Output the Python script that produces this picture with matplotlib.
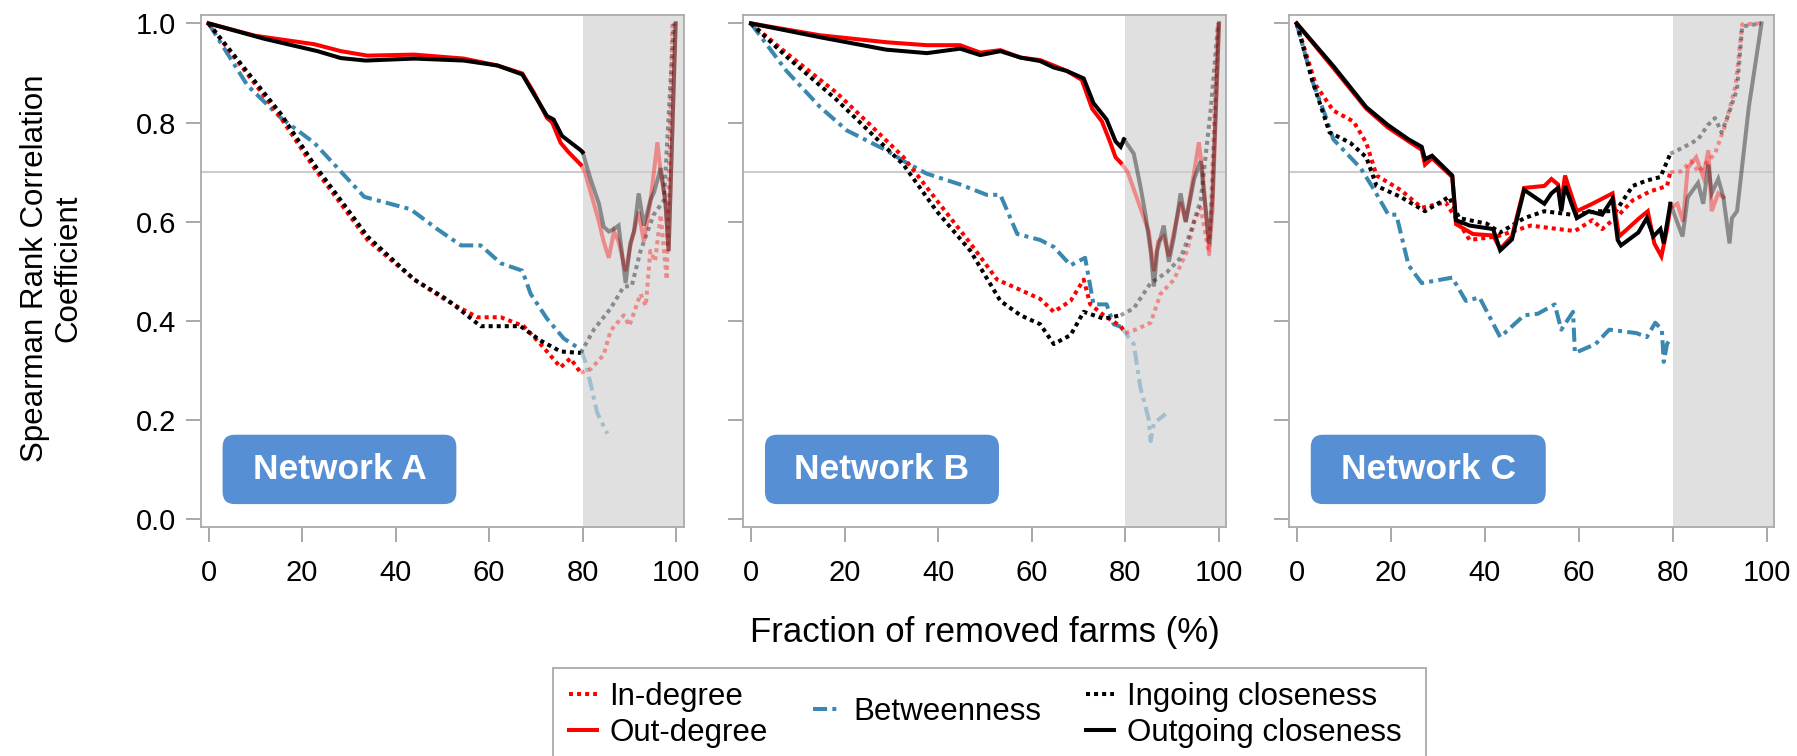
import matplotlib
matplotlib.use('Agg')
import numpy as np
import matplotlib.pyplot as plt
from matplotlib.patches import FancyBboxPatch, Rectangle
from matplotlib.lines import Line2D

# ---- Network A ----
a_out_x = [0, 10, 22.6, 28.3, 34, 44, 54.6, 61.8, 67.1, 69.6, 72.4, 73.5, 75.3, 77, 79.6,
           80.5, 82, 83.5, 84.5, 85.6, 86.7, 87.7, 89.2, 90.2, 92, 93.1, 94.5, 96, 96.7, 97.7, 98.4, 99.9]
a_out_y = [1.0, 0.975, 0.958, 0.944, 0.935, 0.937, 0.929, 0.915, 0.899, 0.86, 0.809, 0.80, 0.759, 0.74, 0.715,
           0.70, 0.65, 0.60, 0.56, 0.527, 0.58, 0.56, 0.50, 0.55, 0.62, 0.56, 0.64, 0.76, 0.70, 0.64, 0.54, 1.0]
a_oc_x = [0, 11.9, 23.3, 28.3, 33.6, 44, 54.6, 61.8, 67.1, 69.6, 72.4, 73.8, 75.6, 79.6,
          80, 81.7, 83.5, 84.5, 85.6, 86.7, 87.7, 89.2, 90.2, 91, 92, 93.1, 94.5, 95.3, 96.7, 97.7, 98.4, 99.9]
a_oc_y = [1.0, 0.969, 0.944, 0.93, 0.925, 0.929, 0.925, 0.915, 0.897, 0.857, 0.813, 0.806, 0.773, 0.744,
          0.74, 0.686, 0.636, 0.59, 0.58, 0.585, 0.592, 0.476, 0.556, 0.58, 0.657, 0.592, 0.643, 0.66, 0.708, 0.643, 0.541, 1.0]
a_in_x = [0, 15.5, 22.6, 28.3, 34, 44, 51, 57.5, 62.5, 67.4, 71, 75.3, 77.4, 79.6,
          81.7, 84.5, 86, 88.8, 90, 92.4, 93.5, 94.5, 95.5, 96.7, 98, 99.2]
a_in_y = [1.0, 0.809, 0.708, 0.636, 0.563, 0.483, 0.44, 0.407, 0.407, 0.389, 0.353, 0.306, 0.324, 0.295,
          0.302, 0.331, 0.38, 0.411, 0.39, 0.454, 0.43, 0.541, 0.52, 0.614, 0.483, 1.0]
a_ic_x = [0, 15.5, 22.6, 28.3, 34, 44, 51, 58.2, 66.7, 71, 75.3, 79.6,
          82.4, 86, 88.8, 90.5, 92.4, 95.2, 97.4, 99.5]
a_ic_y = [1.0, 0.817, 0.715, 0.643, 0.57, 0.483, 0.443, 0.389, 0.389, 0.36, 0.338, 0.335,
          0.382, 0.425, 0.469, 0.47, 0.541, 0.614, 0.643, 1.0]
a_bt_x = [0, 8.3, 15.5, 22.6, 28.3, 33.3, 43.2, 48.9, 54, 58.2, 62.5, 67.1, 68.9, 72.4, 76, 79.6,
          80.6, 81.7, 83.1, 85.3]
a_bt_y = [1.0, 0.875, 0.809, 0.759, 0.701, 0.65, 0.625, 0.585, 0.552, 0.552, 0.516, 0.501, 0.454, 0.404, 0.364, 0.342,
          0.317, 0.273, 0.215, 0.172]

# ---- Network B ----
b_out_x = [0, 14.8, 28.9, 37.6, 44.7, 49, 53.3, 57.6, 61.8, 64.7, 67.5, 70.7, 72.9, 75, 76.8, 77.9, 79,
           80.5, 82, 83.5, 85, 86.1, 87, 88.2, 89.3, 90.4, 91.8, 92.9, 94.7, 95.7, 96.5, 97.9, 98.6, 100]
b_out_y = [1.0, 0.976, 0.962, 0.956, 0.956, 0.941, 0.946, 0.931, 0.926, 0.915, 0.904, 0.886, 0.828, 0.802, 0.759, 0.73, 0.719,
           0.70, 0.66, 0.62, 0.58, 0.50, 0.56, 0.57, 0.53, 0.58, 0.64, 0.60, 0.70, 0.76, 0.70, 0.54, 0.62, 1.0]
b_oc_x = [0, 14.8, 28.9, 37.6, 44.7, 49, 53.3, 57.6, 61.8, 64.7, 67.5, 71.1, 73.2, 76, 77.9, 79, 79.7,
          81.8, 83.2, 84.3, 85.4, 86.1, 86.8, 88.2, 89.3, 90.4, 91.8, 92.9, 94.7, 96.1, 97.9, 98.6, 100]
b_oc_y = [1.0, 0.972, 0.947, 0.94, 0.949, 0.936, 0.944, 0.931, 0.924, 0.911, 0.904, 0.889, 0.839, 0.806, 0.762, 0.751, 0.766,
          0.737, 0.672, 0.614, 0.541, 0.469, 0.541, 0.592, 0.519, 0.57, 0.657, 0.599, 0.686, 0.722, 0.556, 0.65, 1.0]
b_in_x = [0, 7.6, 18.3, 25.5, 32.6, 39.7, 46.9, 52.6, 57.6, 61.8, 64.7, 68.3, 71.1, 72.5, 75.4, 79, 80,
          82.2, 85.4, 87.5, 90.4, 93.2, 94.7, 96.1, 97.9, 99.3, 99.8]
b_in_y = [1.0, 0.94, 0.86, 0.795, 0.73, 0.643, 0.556, 0.483, 0.462, 0.444, 0.418, 0.44, 0.483, 0.433, 0.411, 0.389, 0.375,
          0.382, 0.396, 0.454, 0.483, 0.541, 0.599, 0.628, 0.534, 0.88, 1.0]
b_ic_x = [0, 7.6, 18.3, 25.5, 32.6, 39.7, 46.9, 53.3, 57.6, 61.8, 64.7, 68.3, 71.1, 75.4, 79,
          81.8, 85.4, 88.9, 91.8, 93.9, 96.1, 98.3, 99.8]
b_ic_y = [1.0, 0.933, 0.846, 0.78, 0.715, 0.621, 0.541, 0.44, 0.411, 0.393, 0.353, 0.371, 0.418, 0.404, 0.411,
          0.425, 0.476, 0.498, 0.527, 0.578, 0.643, 0.831, 1.0]
b_bt_x = [0, 7.6, 14.8, 20.5, 28.9, 33.2, 37.5, 44.7, 50.4, 53.3, 56.9, 61.8, 64.7, 68.3, 71.4, 73.2, 76, 77.5, 79,
          81.8, 83.2, 85, 85.4, 86.1, 88.6]
b_bt_y = [1.0, 0.904, 0.831, 0.784, 0.744, 0.719, 0.697, 0.675, 0.654, 0.654, 0.575, 0.563, 0.549, 0.512, 0.527, 0.433, 0.433, 0.393, 0.388,
          0.353, 0.266, 0.201, 0.157, 0.193, 0.212]

# ---- Network C ----
c_out_x = [0, 7.8, 14.8, 19.4, 23.8, 26.6, 27.3, 28.8, 33.1, 33.9, 37.5, 41.8, 43.3, 45.8, 48.4, 52.7, 54.2, 55.6,
           56.3, 57.1, 57.8, 59.6, 62.9, 67.2, 68.6, 72.9, 74.7, 76.1, 77.6, 78.8, 79.5,
           81, 82.2, 83.2, 85, 86.5, 87.6, 88.3, 89.7, 90.8]
c_out_y = [1.0, 0.91, 0.828, 0.79, 0.762, 0.745, 0.715, 0.728, 0.69, 0.595, 0.575, 0.572, 0.545, 0.57, 0.668, 0.672, 0.686, 0.675,
           0.64, 0.693, 0.672, 0.621, 0.636, 0.657, 0.57, 0.607, 0.621, 0.556, 0.53, 0.585, 0.628,
           0.636, 0.60, 0.708, 0.73, 0.69, 0.744, 0.621, 0.657, 0.649]
c_oc_x = [0, 7.8, 14.8, 19.4, 23.8, 26.6, 27.3, 28.8, 33.1, 33.9, 36.8, 41.8, 43.3, 45.8, 48.4, 52.7, 54.2, 55.6, 56.3,
          57.1, 59.6, 62.2, 65, 67.2, 68.3, 69, 72.7, 74.5, 75.9, 77.4, 78.1, 79.5,
          82.1, 83.2, 85.4, 86.5, 87.6, 88.3, 89.7, 90.8, 92.1, 92.6, 93.7, 96.2, 98.9]
c_oc_y = [1.0, 0.914, 0.831, 0.795, 0.766, 0.751, 0.726, 0.733, 0.693, 0.603, 0.592, 0.585, 0.542, 0.564, 0.664, 0.636, 0.657, 0.668, 0.621,
          0.672, 0.607, 0.621, 0.614, 0.646, 0.563, 0.552, 0.578, 0.607, 0.57, 0.585, 0.556, 0.636,
          0.57, 0.649, 0.678, 0.636, 0.715, 0.657, 0.686, 0.649, 0.556, 0.607, 0.621, 0.831, 1.0]
c_in_x = [0, 4.1, 7.8, 12.1, 14.8, 17, 22.1, 26.6, 31.7, 36.8, 42.6, 49.8, 55.6, 59.2, 62.9, 65, 68.6, 71.5, 75.2, 78.8, 79.5,
          81.7, 83.9, 85.5, 87.5, 89, 91.2, 93.4, 94.8, 98.8]
c_in_y = [1.0, 0.875, 0.824, 0.802, 0.759, 0.693, 0.664, 0.628, 0.639, 0.563, 0.57, 0.592, 0.585, 0.581, 0.603, 0.585, 0.614, 0.643, 0.661, 0.672, 0.70,
          0.701, 0.722, 0.70, 0.722, 0.737, 0.795, 0.875, 0.998, 1.0]
c_ic_x = [0, 3.4, 7, 11.4, 14.8, 17, 22.1, 27.3, 32.4, 34.6, 40.4, 43.3, 48.4, 52.7, 58.5, 64.3, 67.9, 71.5, 74.5, 77.4, 79.5,
          82.5, 85.4, 87.5, 89, 90.4, 91.9, 93.7, 94.8, 98.8]
c_ic_y = [1.0, 0.882, 0.78, 0.759, 0.73, 0.672, 0.65, 0.621, 0.65, 0.607, 0.596, 0.578, 0.607, 0.621, 0.614, 0.621, 0.621, 0.672, 0.683, 0.69, 0.737,
          0.751, 0.766, 0.795, 0.809, 0.78, 0.817, 0.867, 0.994, 1.0]
c_bt_x = [0, 3.4, 6.3, 7.8, 13.6, 16.5, 19.5, 21.2, 23.8, 26.6, 33.1, 36, 38.9, 43.3, 48.4, 51.3, 54.9, 56.3, 58.8, 59.2,
          63.6, 66.5, 72.3, 74.5, 76.3, 77.7, 78.1, 78.8, 79.5]
c_bt_y = [1.0, 0.882, 0.809, 0.766, 0.708, 0.664, 0.614, 0.614, 0.512, 0.476, 0.487, 0.44, 0.447, 0.367, 0.411, 0.414, 0.433, 0.382, 0.418, 0.335,
          0.353, 0.382, 0.375, 0.367, 0.396, 0.382, 0.317, 0.353, 0.364]

panel_names = ['Network A', 'Network B', 'Network C']
x_ticks = [0, 20, 40, 60, 80, 100]
y_ticks = [0.0, 0.2, 0.4, 0.6, 0.8, 1.0]
cutoff = 80
threshold = 0.7

plt.rcParams['font.family'] = ['Liberation Sans', 'DejaVu Sans']

red = '#ff0000'
blue = '#3a87b0'
blk = '#000000'
dot = (0, (1, 1))
dashdot = (0, (3.5, 1.3, 1, 1.3))
line_styles = {
    'In-degree': (red, dot),
    'Out-degree': (red, '-'),
    'Betweenness': (blue, dashdot),
    'Ingoing closeness': (blk, dot),
    'Outgoing closeness': (blk, '-'),
}

panel_data = [
    {'Betweenness': (a_bt_x, a_bt_y), 'In-degree': (a_in_x, a_in_y), 'Ingoing closeness': (a_ic_x, a_ic_y),
     'Out-degree': (a_out_x, a_out_y), 'Outgoing closeness': (a_oc_x, a_oc_y)},
    {'Betweenness': (b_bt_x, b_bt_y), 'In-degree': (b_in_x, b_in_y), 'Ingoing closeness': (b_ic_x, b_ic_y),
     'Out-degree': (b_out_x, b_out_y), 'Outgoing closeness': (b_oc_x, b_oc_y)},
    {'Betweenness': (c_bt_x, c_bt_y), 'In-degree': (c_in_x, c_in_y), 'Ingoing closeness': (c_ic_x, c_ic_y),
     'Out-degree': (c_out_x, c_out_y), 'Outgoing closeness': (c_oc_x, c_oc_y)},
]

fig = plt.figure(figsize=(17.97, 7.56), dpi=100)

# posisi panel (fraksi figure)
ax_pos = [[0.1119, 0.3024, 0.2685, 0.6778],
          [0.4137, 0.3024, 0.2688, 0.6778],
          [0.7174, 0.3024, 0.2699, 0.6778]]

lw = 2.9
draw_order = ['Betweenness', 'In-degree', 'Ingoing closeness', 'Out-degree', 'Outgoing closeness']

for i, pos in enumerate(ax_pos):
    ax = fig.add_axes(pos)
    ax.set_xlim(-1.6, 101.6)
    ax.set_ylim(-0.017, 1.017)
    ax.axvspan(cutoff, 101.6, color='#e0e0e0', lw=0, zorder=0)
    ax.axhline(threshold, color='#cccccc', lw=1.5, zorder=1)

    for name in draw_order:
        xs, ys = panel_data[i][name]
        xs = np.array(xs)
        ys = np.array(ys)
        col, ls = line_styles[name]
        n = int(np.sum(xs <= cutoff))
        ax.plot(xs[:n], ys[:n], color=col, ls=ls, lw=lw, zorder=3,
                solid_joinstyle='miter', dash_capstyle='butt')
        if n < len(xs):
            # bagian di atas 80% digambar pudar
            ax.plot(xs[n - 1:], ys[n - 1:], color=col, ls=ls, lw=lw, alpha=0.38, zorder=2,
                    solid_joinstyle='miter', dash_capstyle='butt')

    # kotak label network
    mpp = (ax.get_xlim()[1] - ax.get_xlim()[0]) / (pos[2] * 1797)
    mpy = (ax.get_ylim()[1] - ax.get_ylim()[0]) / (pos[3] * 756)
    box = FancyBboxPatch((3.0, 0.03), 50.0, 0.14,
                         boxstyle='round,pad=0,rounding_size=2.6',
                         mutation_aspect=mpy / mpp,
                         fc='#578fd5', ec='none', zorder=5)
    ax.add_patch(box)
    ax.text(28.0, 0.10, panel_names[i], color='white', fontsize=25.5, fontweight='bold',
            ha='center', va='center', zorder=6)

    for s in ax.spines.values():
        s.set_color('#aaaaaa')
        s.set_linewidth(1.3)
    ax.set_xticks(x_ticks)
    ax.set_yticks(y_ticks)
    ax.tick_params(axis='both', colors='#999999', labelcolor='black', length=11, width=1.2,
                   labelsize=21)
    ax.tick_params(axis='x', pad=12)
    ax.tick_params(axis='y', pad=7)
    if i == 0:
        ax.set_yticklabels(['%.1f' % v for v in y_ticks])
    else:
        ax.set_yticklabels([])

fig.text(0.029, 0.645, 'Spearman Rank Correlation\nCoefficient', rotation=90,
         ha='center', va='center', fontsize=22.5, multialignment='center', linespacing=1.15)
fig.text(0.548, 0.163, 'Fraction of removed farms (%)', ha='center', va='center', fontsize=25)

# bingkai legend
fig.patches.append(Rectangle((0.3075, -0.02), 0.486, 0.1364, transform=fig.transFigure,
                             fill=False, ec='#aaaaaa', lw=1.3))


def handle(name):
    col, ls = line_styles[name]
    return Line2D([], [], color=col, ls=ls, lw=lw, dash_capstyle='butt')


leg_kw = dict(frameon=False, fontsize=22.5, handlelength=0.9, handletextpad=0.4,
              borderpad=0, borderaxespad=0, labelspacing=0.18, loc='center left')
fig.legend([handle('In-degree'), handle('Out-degree')], ['In-degree', 'Out-degree'],
           bbox_to_anchor=(0.3166, 0.0542), **leg_kw)
fig.legend([handle('Betweenness')], ['Betweenness'],
           bbox_to_anchor=(0.4524, 0.0582), **leg_kw)
fig.legend([handle('Ingoing closeness'), handle('Outgoing closeness')],
           ['Ingoing closeness', 'Outgoing closeness'],
           bbox_to_anchor=(0.6043, 0.0542), **leg_kw)

fig.savefig('out.png', dpi=100)
